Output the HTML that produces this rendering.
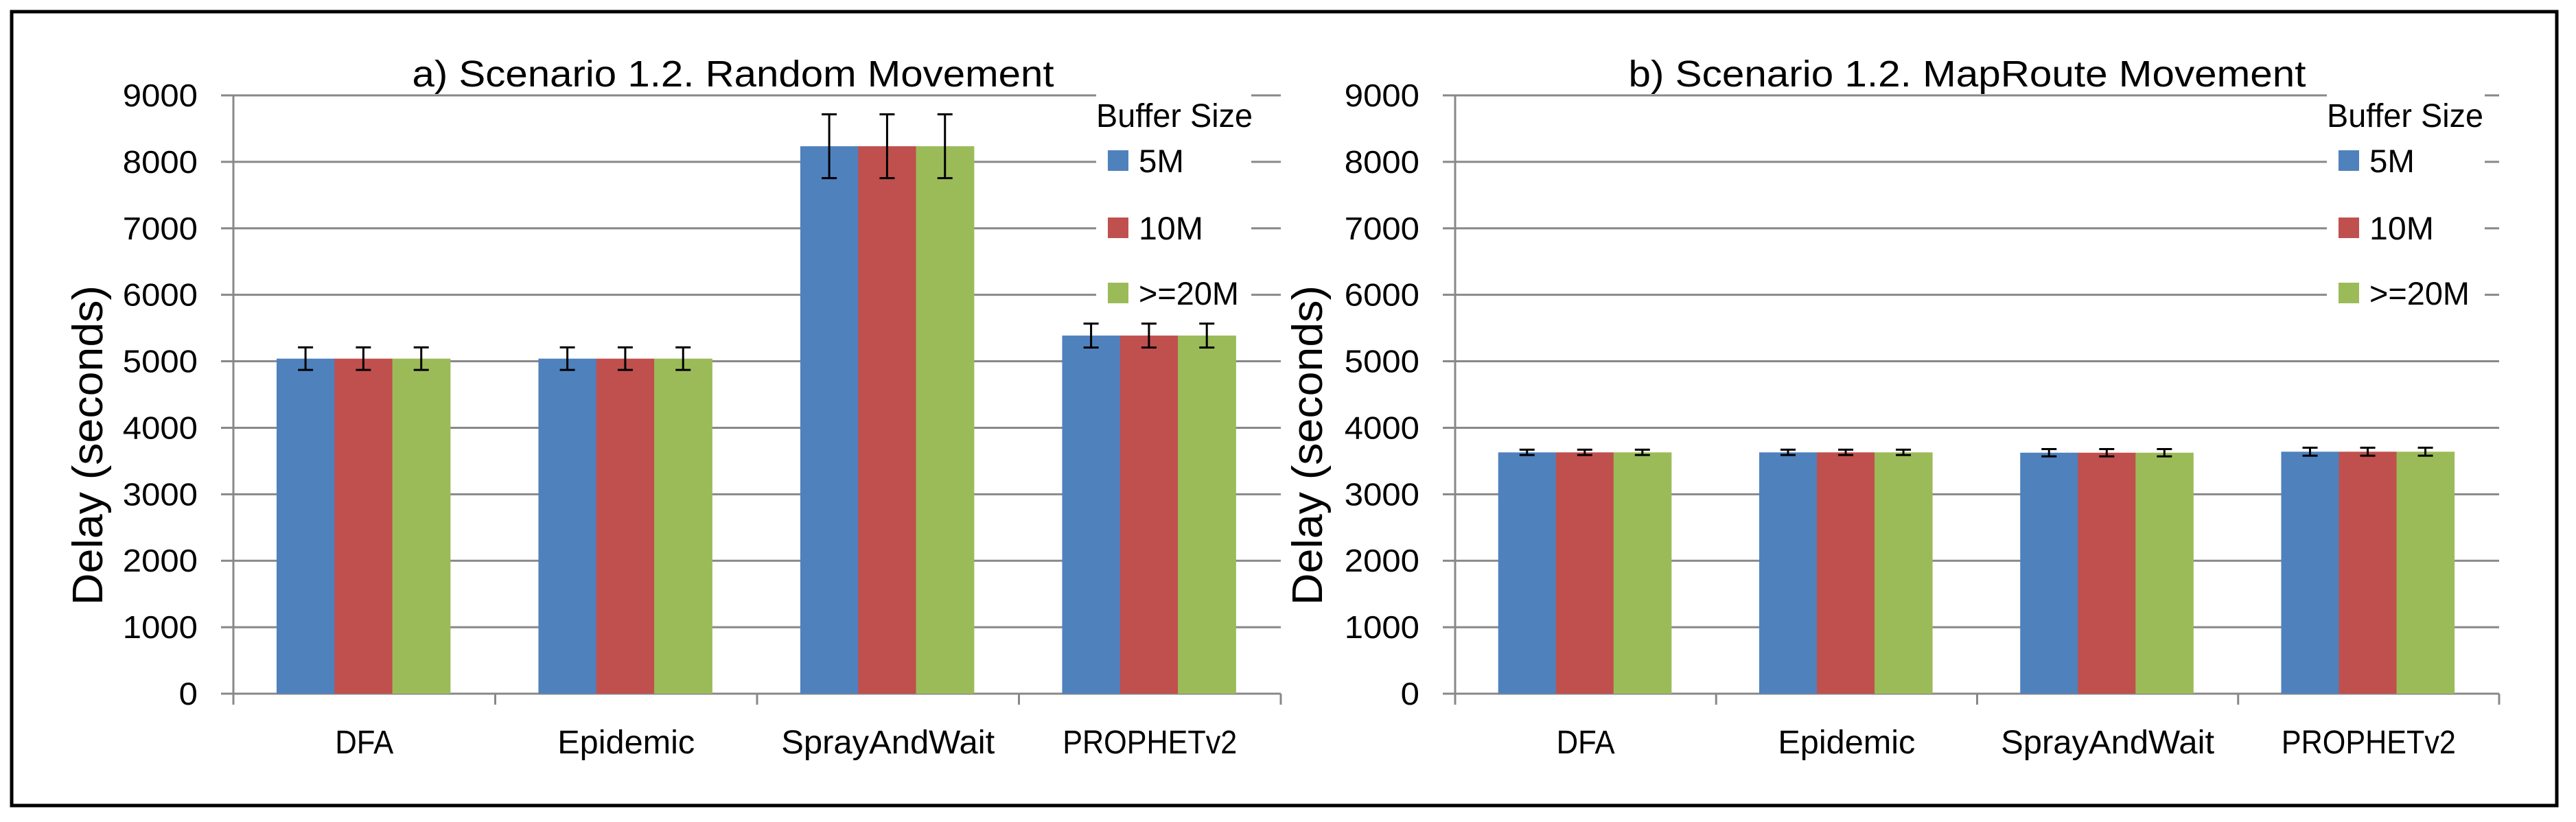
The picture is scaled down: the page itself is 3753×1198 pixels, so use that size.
<!DOCTYPE html>
<html><head><meta charset="utf-8"><style>
html,body{margin:0;padding:0;background:#fff;}
svg{display:block;}
text{font-family:"Liberation Sans",sans-serif;fill:#000;}
</style></head><body>
<svg id="svg" width="3753" height="1198" viewBox="0 0 3753 1198" xmlns="http://www.w3.org/2000/svg">
<rect x="17" y="17" width="3708" height="1157" fill="#fff" stroke="#000" stroke-width="5"/>
</svg>
<script>
const categories = ["DFA","Epidemic","SprayAndWait","PROPHETv2"];
const seriesNames = ["5M","10M",">=20M"];
const yTicks = [0,1000,2000,3000,4000,5000,6000,7000,8000,9000];
const randomValues5M = [5040,5040,8235,5387];
const randomValues10M = [5040,5040,8235,5387];
const randomValues20M = [5040,5040,8235,5387];
const randomErrors = [170,170,480,180];
const mapValues5M = [3630,3630,3625,3640];
const mapValues10M = [3630,3630,3625,3640];
const mapValues20M = [3630,3630,3625,3640];
const mapErrors = [40,40,55,60];
const colors = ["#4F81BD","#C0504D","#9BBB59"];

const NS = "http://www.w3.org/2000/svg";
const svg = document.getElementById('svg');
const CHAR_W = {"DFA":85,"Epidemic":200,"SprayAndWait":311,"PROPHETv2":254,"5M":66,"10M":94,">=20M":146};
function mk(tag, attrs, parent){
  const e = document.createElementNS(NS, tag);
  for (const k in attrs) e.setAttribute(k, attrs[k]);
  (parent||svg).appendChild(e);
  return e;
}
function chart(opts){
  const g = mk('g', {});
  
  
  const x0 = opts.x0, x1 = opts.x1, yTop = 139, yBot = 1011, yMax = 9000;
  const yS = v => yBot - (v / yMax) * (yBot - yTop);
  const cw = (x1 - x0) / categories.length;
  const legL = opts.legGapL, legR = opts.legGapR;
  yTicks.forEach(t => {
    const y = yS(t);
    if (t > 0 && y < 460) {
      const l1 = mk('line', {x1: x0 - 18, x2: legL, y1: y, y2: y, stroke: '#888', 'stroke-width': 3}, g);
      
      
      const l2 = mk('line', {x1: legR, x2: x1, y1: y, y2: y, stroke: '#888', 'stroke-width': 3}, g);
      
      
    } else {
      const l = mk('line', {x1: x0 - 18, x2: x1, y1: y, y2: y, stroke: '#888', 'stroke-width': 3}, g);
      
      
    }
    const s = String(t);
    const tx = mk('text', {x: x0 - 52, y: y + 16, 'text-anchor': 'end', 'font-size': 46, textLength: s.length * 27.3, lengthAdjust: 'spacingAndGlyphs'}, g);
    tx.textContent = s;
    
    
  });
  const ya = mk('line', {x1: x0, x2: x0, y1: yTop, y2: yBot + 16, stroke: '#888', 'stroke-width': 3}, g);
  
  
  for (let i = 1; i <= categories.length; i++) {
    const tk = mk('line', {x1: x0 + i * cw, x2: x0 + i * cw, y1: yBot, y2: yBot + 16, stroke: '#888', 'stroke-width': 3}, g);
    
    
  }
  const bw = cw * 0.221, off = cw * 0.165;
  opts.series.forEach((vals, s) => {
    vals.forEach((v, i) => {
      const bx = x0 + i * cw + off + s * bw;
      const r = mk('rect', {x: bx, y: yS(v), width: bw + 0.5, height: yBot - yS(v), fill: colors[s]}, g);
      
      
      const e = opts.errors[i], cx = bx + bw / 2;
      const eg = mk('g', {stroke: '#000', 'stroke-width': 3}, g);
      
      
      mk('line', {x1: cx, x2: cx, y1: yS(v + e), y2: yS(v - e)}, eg);
      mk('line', {x1: cx - 11, x2: cx + 11, y1: yS(v + e), y2: yS(v + e)}, eg);
      mk('line', {x1: cx - 11, x2: cx + 11, y1: yS(v - e), y2: yS(v - e)}, eg);
    });
  });
  categories.forEach((c, i) => {
    const t = mk('text', {x: x0 + (i + 0.5) * cw, y: 1098, 'text-anchor': 'middle', 'font-size': 48, textLength: CHAR_W[c] || c.length * 25, lengthAdjust: 'spacingAndGlyphs'}, g);
    t.textContent = c;
    
    
  });
  const tt = mk('text', {x: opts.titleX, y: 126, 'text-anchor': 'middle', 'font-size': 54, textLength: opts.titleW, lengthAdjust: 'spacingAndGlyphs'}, g);
  tt.textContent = opts.title;
  
  
  const yt = mk('text', {x: 0, y: 0, 'text-anchor': 'middle', 'font-size': 62, textLength: 466, lengthAdjust: 'spacingAndGlyphs', transform: 'translate(' + (opts.yTitleX + 22) + ',649) rotate(-90)'}, g);
  yt.textContent = 'Delay (seconds)';
  
  
  const lt = mk('text', {x: legL, y: 185, 'font-size': 48, textLength: 228, lengthAdjust: 'spacingAndGlyphs'}, g);
  lt.textContent = 'Buffer Size';
  
  
  const ly = [234, 332, 427];
  seriesNames.forEach((n, s) => {
    const lg = mk('g', {}, g);
    
    
    mk('rect', {x: legL + 17, y: ly[s] - 15, width: 30, height: 30, fill: colors[s]}, lg);
    const t = mk('text', {x: legL + 62, y: ly[s] + 17, 'font-size': 47, textLength: CHAR_W[n] || n.length * 28, lengthAdjust: 'spacingAndGlyphs'}, lg);
    t.textContent = n;
  });
}
chart({name:'chart-random-movement', x0:340, x1:1866, title:'a) Scenario 1.2. Random Movement', titleX:1068, titleW:935, yTitleX:127, legGapL:1597, legGapR:1823,
  series:[randomValues5M, randomValues10M, randomValues20M], errors: randomErrors});
chart({name:'chart-maproute-movement', x0:2120, x1:3641, title:'b) Scenario 1.2. MapRoute Movement', titleX:2866, titleW:987, yTitleX:1904, legGapL:3390, legGapR:3620,
  series:[mapValues5M, mapValues10M, mapValues20M], errors: mapErrors});
</script>
</body></html>
